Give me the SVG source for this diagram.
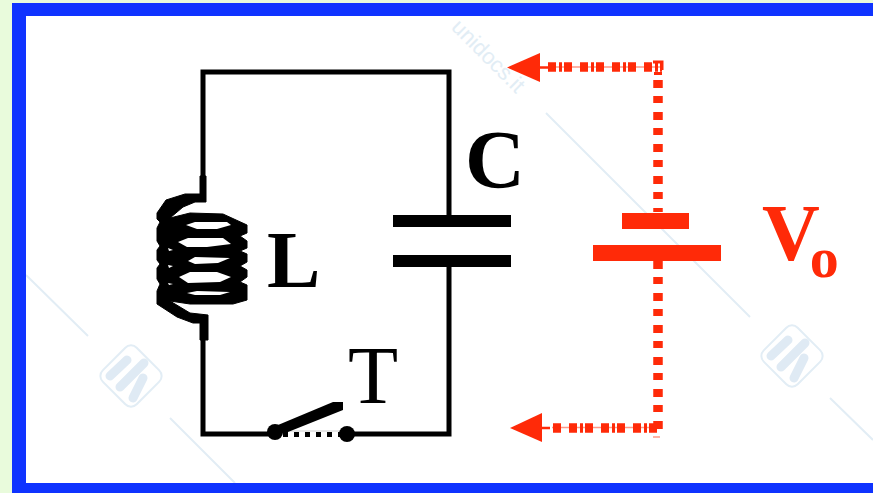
<svg xmlns="http://www.w3.org/2000/svg" width="873" height="493" viewBox="0 0 873 493">
<style>
.wire{fill:none;stroke:#000;stroke-width:5}
.red{fill:#ff2a08}
.dot{fill:none;stroke:#ff2a08;stroke-width:9.500;stroke-dasharray:8 3 3 2 8 8}
.dotv{fill:none;stroke:#ff2a08;stroke-width:9.500;stroke-dasharray:8 8 7 9}
.thin{fill:none;stroke:#ff9a88;stroke-width:1.500}
.wm{fill:none;stroke:#e2edf5;stroke-width:2}
.wb{fill:none;stroke:#dfeaf4;stroke-width:9;stroke-linecap:round}
.lab{font-family:"Liberation Serif","Times New Roman",serif;font-weight:bold}
</style>
<defs>
<g id="wm-icon">
<rect x="-24" y="-24" width="48" height="48" rx="8" class="wm" transform="rotate(45)"/>
<path class="wb" d="M-4 -16L-21 0M13 -13L-11 11M12 2L2 22"/>
</g>
</defs>
<rect width="873" height="493" fill="#e9fbdc"/>
<rect x="26" y="16" width="847" height="467" fill="#fff"/>
<g id="watermark">
<path class="wm" d="M26 275L88 336M170 418L235 483M546 113L750 317M830 398L873 440"/>
<use href="#wm-icon" x="131" y="376"/>
<use href="#wm-icon" x="792" y="356"/>
<text x="516" y="94" transform="rotate(45 516 94)" text-anchor="end" font-family="'Liberation Sans',Arial,sans-serif" font-size="22" fill="#e2edf5">unidocs.it</text>
</g>
<path id="border" fill="#0f33ff" fill-rule="evenodd" d="M12 3H873V16H26V483H873V493H12Z"/>
<g id="connectors">
<path class="wire" d="M203 200V72H449V216M449 262V434H347M275 434H203V316"/>
<path d="M283 434.500H340" stroke="#000" stroke-width="5" stroke-dasharray="5 6" fill="none"/>
<path d="M283 431H340" stroke="#ccc" stroke-width="1" fill="none"/>
<path class="thin" d="M548 67H660M552 427.500H660M660 437H653"/>
<path class="dot" d="M548 67H662"/>
<path class="dotv" d="M658 80V212"/>
<path d="M653 62H662V70M654 73.500H662" stroke="#ff2a08" stroke-width="3" fill="none"/>
<path class="dotv" d="M658 261V437"/>
<path class="dot" stroke-dashoffset="16" d="M553 428H662"/>
<path d="M540 67.500H548M542 428H550" stroke="#ff2a08" stroke-width="2.500" fill="none"/>
<polygon class="red" points="507,67.500 540,53 540,82"/>
<polygon class="red" points="510,428 542,413 542,442"/>
</g>
<g id="inductor-L">
<path fill="#000" stroke="#000" stroke-width="1" stroke-linejoin="round" d="M200 176H206V202H195L183 207L170 218L190 213L223 214L247 225V233L240 236L247 241V248L240 251L247 254V262L240 266L247 270V277L240 282L247 285V300L233 304H190L170 301L190 313L208 315V340H200V323H193L177 317L157 304V291L160 284L157 279V268L160 264L157 260V250L160 246L157 241V228L160 222L157 219V213L166 200L185 194H200Z"/>
<g fill="#fff">
<path d="M186 225L195 222H227L231 225L217 229H197Z"/>
<path d="M178 242L188 238H223L231 244L207 247H187Z"/>
<path d="M188 261L195 257L230 258L218 263L195 264Z"/>
<path d="M179 277L190 272H217L231 277L220 282L188 283Z"/>
<path d="M187 293L197 291L230 292L220 295H195Z"/>
<path d="M168 248L173 250L169 251ZM168 265L173 266L169 268ZM168 283L173 284L169 285Z"/>
</g>
<text x="267" y="287" class="lab" font-size="80">L</text>
</g>
<g id="capacitor-C">
<rect x="393" y="215" width="118" height="12" fill="#000"/>
<rect x="393" y="255" width="118" height="12" fill="#000"/>
<text x="465" y="187" class="lab" font-size="83">C</text>
</g>
<g id="switch-T">
<circle cx="275" cy="432" r="8" fill="#000"/>
<circle cx="347" cy="434" r="8" fill="#000"/>
<polygon points="278,425 333,402 343,402 343,410 283,434" fill="#000"/>
<text x="348" y="403" font-family="'Liberation Serif','Times New Roman',serif" font-size="82">T</text>
</g>
<g id="battery-Vo">
<rect x="622" y="213" width="67" height="16" class="red"/>
<rect x="593" y="245" width="128" height="16" class="red"/>
<text x="762" y="260" class="lab" font-size="80" fill="#ff2a08">V<tspan dx="-10" dy="17" font-size="58">o</tspan></text>
</g>
</svg>
